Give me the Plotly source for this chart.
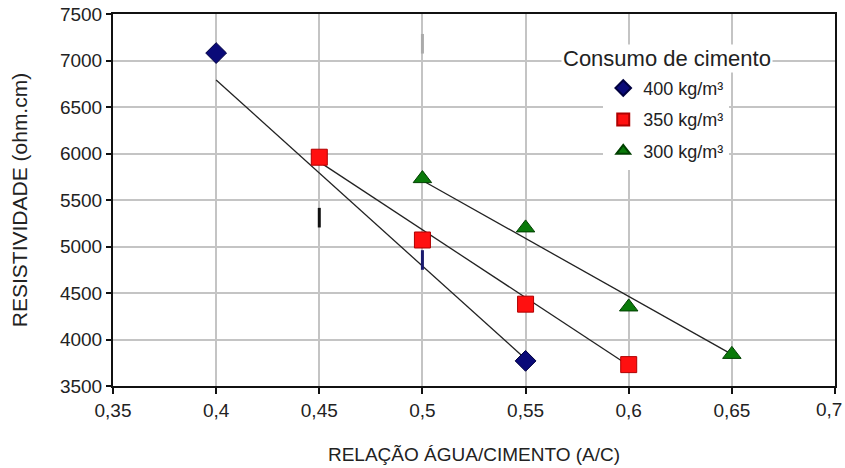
import plotly.graph_objects as go

# Data
x_400 = [0.40, 0.55]
y_400 = [7080, 3770]
x_350 = [0.45, 0.50, 0.55, 0.60]
y_350 = [5960, 5070, 4380, 3730]
x_300 = [0.50, 0.55, 0.60, 0.65]
y_300 = [5730, 5200, 4350, 3840]

# Trend lines (endpoints)
trend_400_x = [0.40, 0.55]
trend_400_y = [6790, 3790]
trend_350_x = [0.45, 0.60]
trend_350_y = [5910, 3720]
trend_300_x = [0.50, 0.65]
trend_300_y = [5710, 3840]

# Small stray marks visible in the chart
mark_x = [0.45, 0.50, 0.50]
mark_y = [5310, 4855, 7180]
mark_colors = ["#111111", "#1a1a6e", "#aaaaaa"]

x_ticks = [0.35, 0.4, 0.45, 0.5, 0.55, 0.6, 0.65, 0.7]
x_labels = ["0,35", "0,4", "0,45", "0,5", "0,55", "0,6", "0,65", ""]
last_x_label = "0,7"
y_ticks = [3500, 4000, 4500, 5000, 5500, 6000, 6500, 7000, 7500]

legend_names = ["400 kg/m³", "350 kg/m³", "300 kg/m³"]

fig = go.Figure()

for tx, ty in [(trend_400_x, trend_400_y), (trend_350_x, trend_350_y), (trend_300_x, trend_300_y)]:
    fig.add_trace(go.Scatter(x=tx, y=ty, mode="lines", line=dict(color="#222222", width=1.3),
                             showlegend=False, hoverinfo="skip"))

fig.add_trace(go.Scatter(x=mark_x, y=mark_y, mode="markers",
                         marker=dict(symbol="line-ns", size=14, color=mark_colors,
                                     line=dict(color=mark_colors, width=3)),
                         showlegend=False, hoverinfo="skip"))

fig.add_trace(go.Scatter(x=x_400, y=y_400, mode="markers", name=legend_names[0], legendgroup="a",
                         marker=dict(symbol="diamond", size=16, color="#0a0a78",
                                     line=dict(color="#000040", width=1))))
fig.add_trace(go.Scatter(x=x_350, y=y_350, mode="markers", name=legend_names[1], legendgroup="b",
                         marker=dict(symbol="square", size=16, color="#ff1010",
                                     line=dict(color="#b00000", width=1))))
fig.add_trace(go.Scatter(x=x_300, y=y_300, mode="markers", name=legend_names[2], legendgroup="c",
                         marker=dict(symbol="triangle-up", size=16, color="#0a7a0a",
                                     line=dict(color="#004000", width=1))))

fig.add_annotation(x=0.768, y=0.880, xref="paper", yref="paper", text="Consumo de cimento",
                   showarrow=False, bgcolor="white", font=dict(size=22, color="#222222"),
                   xanchor="center", yanchor="middle")

# Last x tick label (placed so it stays inside the page, as in the original)
fig.add_annotation(x=0.9917, y=-0.064, xref="paper", yref="paper", text=last_x_label,
                   showarrow=False, font=dict(size=19, color="#222222"),
                   xanchor="center", yanchor="middle")

fig.update_layout(
    width=845, height=468,
    margin=dict(l=113, r=10, t=14, b=82),
    paper_bgcolor="white", plot_bgcolor="white",
    font=dict(family="Liberation Sans, Arial, sans-serif", color="#222222"),
    showlegend=True,
    legend=dict(x=0.679, y=0.850, xanchor="left", yanchor="top", bgcolor="white",
                font=dict(size=18, color="#222222"), tracegroupgap=5,
                itemsizing="constant"),
    xaxis=dict(range=[0.35, 0.7], tickvals=x_ticks, ticktext=x_labels, automargin=False,
               showgrid=True, gridcolor="#c4c4c4", gridwidth=2,
               showline=True, linecolor="#111111", linewidth=2, mirror=True,
               ticks="outside", ticklen=6, tickcolor="#111111", tickwidth=2,
               tickfont=dict(size=19, color="#222222"),
               title=dict(text="RELAÇÃO ÁGUA/CIMENTO (A/C)", font=dict(size=19, color="#222222"), standoff=28),
               zeroline=False),
    yaxis=dict(range=[3500, 7500], tickvals=y_ticks, automargin=False,
               showgrid=True, gridcolor="#c4c4c4", gridwidth=2,
               showline=True, linecolor="#111111", linewidth=2, mirror=True,
               ticks="outside", ticklen=5, tickcolor="#111111", tickwidth=2,
               tickfont=dict(size=19, color="#222222"),
               title=dict(text="RESISTIVIDADE (ohm.cm)", font=dict(size=21, color="#222222"), standoff=27),
               zeroline=False),
)

fig.write_html("out.html")
